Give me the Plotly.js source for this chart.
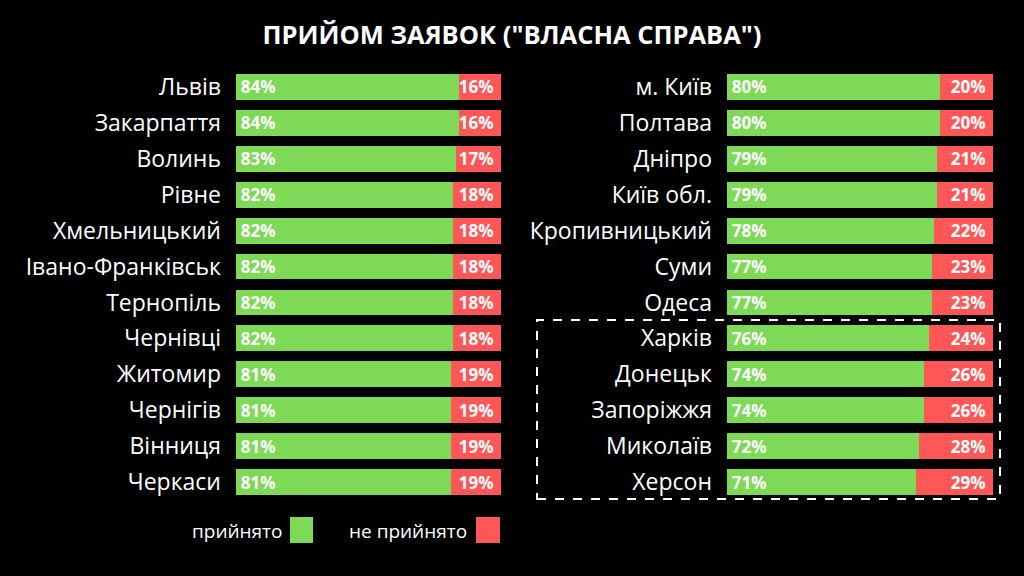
<!DOCTYPE html>
<html>
<head>
<meta charset="utf-8">
<script src="https://cdn.plot.ly/plotly-3.0.1.min.js"></script>
<style>
  html, body { margin: 0; padding: 0; background: #000; }
  #chart { width: 1024px; height: 576px; }
</style>
</head>
<body>
<div id="chart"></div>
<script>
// left column of regions
const leftRegions = ['Львів', 'Закарпаття', 'Волинь', 'Рівне', 'Хмельницький', 'Івано-Франківськ',
    'Тернопіль', 'Чернівці', 'Житомир', 'Чернігів', 'Вінниця', 'Черкаси'];
const leftAccepted = [84, 84, 83, 82, 82, 82, 82, 82, 81, 81, 81, 81];
const leftRejected = [16, 16, 17, 18, 18, 18, 18, 18, 19, 19, 19, 19];

// right column of regions
const rightRegions = ['м. Київ', 'Полтава', 'Дніпро', 'Київ обл.', 'Кропивницький', 'Суми',
    'Одеса', 'Харків', 'Донецьк', 'Запоріжжя', 'Миколаїв', 'Херсон'];
const rightAccepted = [80, 80, 79, 79, 78, 77, 77, 76, 74, 74, 72, 71];
const rightRejected = [20, 20, 21, 21, 22, 23, 23, 24, 26, 26, 28, 29];

const legendNames = ['прийнято', 'не прийнято'];

const GREEN = '#7ed957';
const RED = '#ff5757';
const FONT = 'Open Sans, DejaVu Sans, sans-serif';

function barTrace(y, x, color, anchor, xa, ya, pre, post) {
    return {
        type: 'bar',
        orientation: 'h',
        y: y,
        x: x,
        xaxis: xa,
        yaxis: ya,
        marker: { color: color, line: { width: 0 } },
        // small padding around the value labels
        text: x.map(v => pre + v + '%' + post),
        textposition: 'inside',
        insidetextanchor: anchor,
        constraintext: 'none',
        textfont: { family: FONT, size: 17, color: '#ffffff', weight: 700 },
        hoverinfo: 'skip',
        showlegend: false,
    };
}

const data = [
    barTrace(leftRegions, leftAccepted, GREEN, 'start', 'x', 'y', '\u200a', ''),
    barTrace(leftRegions, leftRejected, RED, 'end', 'x', 'y', '', '\u00a0'),
    barTrace(rightRegions, rightAccepted, GREEN, 'start', 'x2', 'y2', '\u200a', ''),
    barTrace(rightRegions, rightRejected, RED, 'end', 'x2', 'y2', '', '\u00a0'),
];

const yDomain = [76 / 576, 507 / 576];
const yCommon = {
    domain: yDomain,
    autorange: 'reversed',
    showgrid: false,
    zeroline: false,
    showline: false,
    ticks: '',
    ticklabelstandoff: 14,
    tickfont: { family: FONT, size: 23, color: '#ffffff' },
};
const xCommon = {
    range: [0, 100],
    showgrid: false,
    zeroline: false,
    showline: false,
    showticklabels: false,
    fixedrange: true,
};

const layout = {
    width: 1024,
    height: 576,
    margin: { l: 0, r: 0, t: 0, b: 0, pad: 0 },
    paper_bgcolor: '#000000',
    plot_bgcolor: '#000000',
    barmode: 'stack',
    bargap: 0.28,
    showlegend: false,
    title: {
        text: 'ПРИЙОМ ЗАЯВОК ("ВЛАСНА СПРАВА")',
        font: { family: FONT, size: 25.5, color: '#ffffff', weight: 700 },
        x: 0.5,
        xanchor: 'center',
        y: 1 - 35 / 576,
        yanchor: 'middle',
    },
    xaxis: Object.assign({}, xCommon, { domain: [236 / 1024, 501 / 1024], anchor: 'y' }),
    yaxis: Object.assign({}, yCommon, { anchor: 'x' }),
    xaxis2: Object.assign({}, xCommon, { domain: [727 / 1024, 993 / 1024], anchor: 'y2' }),
    yaxis2: Object.assign({}, yCommon, { anchor: 'x2' }),
    shapes: [
        // dashed frame around the last five regions
        { type: 'rect', xref: 'paper', yref: 'paper',
          x0: 537 / 1024, x1: 1000 / 1024, y0: 1 - 499 / 576, y1: 1 - 320 / 576,
          line: { color: '#ffffff', width: 2, dash: 'dash' } },
        // legend squares
        { type: 'rect', xref: 'paper', yref: 'paper',
          x0: 290 / 1024, x1: 313 / 1024, y0: 1 - 543 / 576, y1: 1 - 517 / 576,
          fillcolor: GREEN, line: { width: 0 } },
        { type: 'rect', xref: 'paper', yref: 'paper',
          x0: 476 / 1024, x1: 500 / 1024, y0: 1 - 543 / 576, y1: 1 - 517 / 576,
          fillcolor: RED, line: { width: 0 } },
    ],
    annotations: [
        { xref: 'paper', yref: 'paper', x: 284 / 1024, y: 1 - 531 / 576,
          xanchor: 'right', yanchor: 'middle', showarrow: false,
          text: legendNames[0], font: { family: FONT, size: 19, color: '#ffffff' } },
        { xref: 'paper', yref: 'paper', x: 469 / 1024, y: 1 - 531 / 576,
          xanchor: 'right', yanchor: 'middle', showarrow: false,
          text: legendNames[1], font: { family: FONT, size: 19, color: '#ffffff' } },
    ],
};

Plotly.newPlot('chart', data, layout, { staticPlot: true });
</script>
</body>
</html>
